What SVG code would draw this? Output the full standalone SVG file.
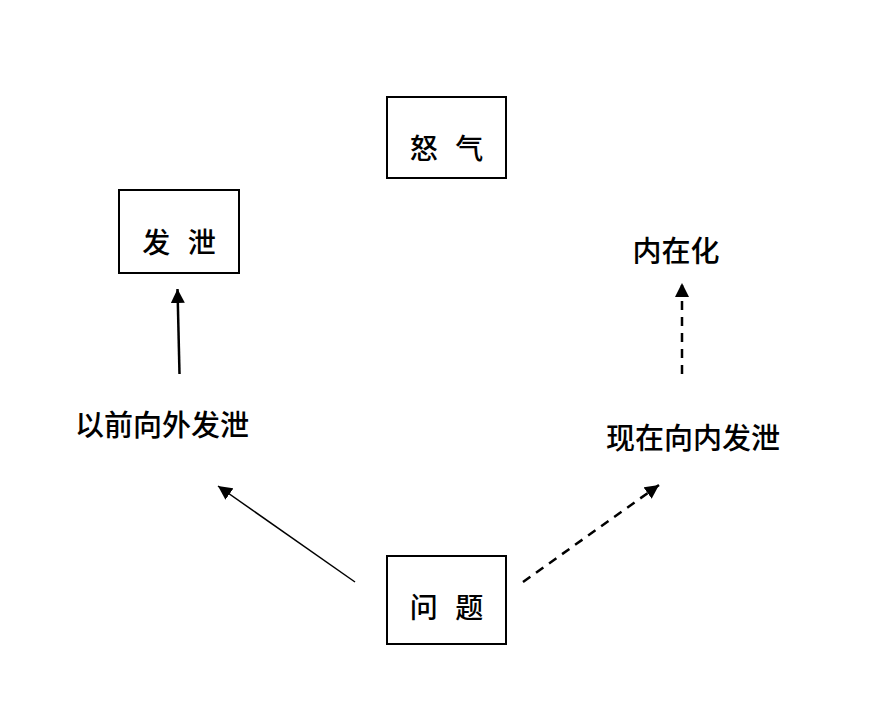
<svg xmlns="http://www.w3.org/2000/svg" width="892" height="716" viewBox="0 0 892 716">
<defs>
<style>
.box{fill:#fff;stroke:#000;stroke-width:2}
.t{font-family:"Noto Sans CJK SC","Noto Sans",sans-serif;font-size:28px;font-weight:500;fill:#000;text-anchor:middle;dominant-baseline:central}
.lb{font-size:29px}
.bt{word-spacing:11px}
.ln{stroke:#000;fill:none}
.dash{stroke-dasharray:9 7;stroke-width:2.5}
</style>
<marker id="ah2" viewBox="0 0 10 10" refX="10" refY="5" markerWidth="14" markerHeight="14" markerUnits="userSpaceOnUse" orient="auto"><path d="M0,0 L10,5 L0,10 z" fill="#000"/></marker>
</defs>
<rect width="892" height="716" fill="#fff"/>
<g id="anger"><rect class="box" x="387" y="97" width="119" height="81"/><text class="t bt" x="446.5" y="147">怒 气</text></g>
<g id="vent"><rect class="box" x="119" y="190" width="120" height="83"/><text class="t bt" x="179" y="241">发 泄</text></g>
<g id="problem"><rect class="box" x="387" y="556" width="119" height="88"/><text class="t bt" x="446.5" y="606">问 题</text></g>
<g id="past"><text class="t lb" x="162" y="423">以前向外发泄</text></g>
<g id="now"><text class="t lb" x="693" y="436">现在向内发泄</text></g>
<g id="internal"><text class="t lb" x="676" y="249">内在化</text></g>
<g id="connectors">
<line class="ln" x1="179.5" y1="374" x2="177.5" y2="289" stroke-width="2.5" marker-end="url(#ah2)"/>
<line class="ln" x1="355" y1="582" x2="218" y2="486" stroke-width="1.5" marker-end="url(#ah2)"/>
<line class="ln dash" x1="523" y1="582" x2="659" y2="485" marker-end="url(#ah2)"/>
<line class="ln dash" x1="682" y1="374" x2="682" y2="283" marker-end="url(#ah2)"/>
</g>
</svg>
